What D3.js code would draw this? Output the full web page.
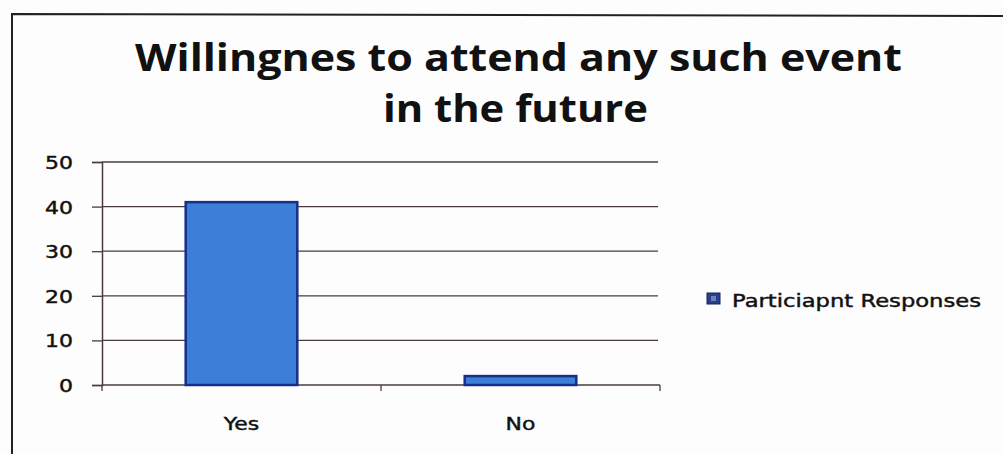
<!DOCTYPE html>
<html><head><meta charset="utf-8">
<script src="https://cdn.jsdelivr.net/npm/d3@7"></script>
<style>body{margin:0;background:#fff;} svg{display:block;}</style>
</head><body>
<svg id="c" width="1003" height="454"></svg>
<script>
const categories = ["Yes", "No"];
const values = [41, 2];
const yTicks = [0, 10, 20, 30, 40, 50];
const titleLines = ["Willingnes to attend any such event", "in the future"];
const seriesName = "Particiapnt Responses";

const svg = d3.select("#c");
svg.append("rect").attr("width",1003).attr("height",454).attr("fill","#fdfdfd");
// chart frame
svg.append("path").attr("d","M12,454 L12,14 L1003,16").attr("fill","none").attr("stroke","#222").attr("stroke-width",2);

const m = {left:102, right:660, top:162, bottom:385};
const x = d3.scaleBand().domain(categories).range([m.left, m.right]);
const y = d3.scaleLinear().domain([0,50]).range([m.bottom, m.top]);
const SX = 1.22; // horizontal stretch of the small labels
const labelFont = "DejaVu Sans, Verdana, sans-serif";

// gridlines
svg.append("g").selectAll("line").data(yTicks.filter(d=>d>0)).join("line")
  .attr("x1",m.left).attr("x2",m.right-2).attr("y1",d=>y(d)).attr("y2",d=>y(d))
  .attr("stroke","#4a3c3c").attr("stroke-width",1.3);

// y axis
const ya = svg.append("g").attr("transform",`translate(${m.left},0)`)
  .call(d3.axisLeft(y).tickValues(yTicks).tickSize(10));
ya.select(".domain").attr("stroke","#4a3c3c").attr("stroke-width",1.5);
ya.selectAll(".tick line").attr("stroke","#4a3c3c").attr("stroke-width",1.3);
ya.selectAll("text").attr("font-family",labelFont).attr("font-size",18).attr("fill","#111")
  .attr("stroke","#111").attr("stroke-width",0.45)
  .attr("x",-29/SX).attr("dy","0.36em").attr("transform",`scale(${SX},1)`);

// x axis
const xa = svg.append("g").attr("transform",`translate(0,${m.bottom})`)
  .call(d3.axisBottom(x).tickSize(0));
xa.select(".domain").remove();
xa.append("line").attr("x1",m.left).attr("x2",m.right).attr("stroke","#4a3c3c").attr("stroke-width",1.5);
const bounds = [m.left].concat(categories.map(c=>x(c)+x.bandwidth()));
xa.selectAll(".bt").data(bounds).join("line").attr("class","bt")
  .attr("x1",d=>d).attr("x2",d=>d).attr("y1",0).attr("y2",6).attr("stroke","#4a3c3c").attr("stroke-width",1.3);
xa.selectAll(".tick text").attr("font-family",labelFont).attr("font-size",18).attr("fill","#111")
  .attr("stroke","#111").attr("stroke-width",0.45)
  .attr("y",45).attr("dy",0).attr("transform",`scale(${SX},1)`);

// bars
const inset = x.bandwidth()*0.3;
svg.append("g").selectAll("rect").data(values).join("rect")
  .attr("x",(d,i)=>x(categories[i])+inset)
  .attr("width",x.bandwidth()-2*inset)
  .attr("y",d=>y(d)).attr("height",d=>y(0)-y(d))
  .attr("fill","#3d7fd6").attr("stroke","#14308a").attr("stroke-width",2.5);

// title
const tg = svg.append("g");
const tys = [71, 122];
const tcx = [518.5, 515.5];
const tlen = [767, 265];
titleLines.forEach((t,i)=>{
  tg.append("text").attr("x",tcx[i]).attr("y",tys[i]).attr("text-anchor","middle")
    .attr("font-family","Open Sans, sans-serif").attr("font-weight","bold").attr("font-size",37).attr("fill","#111")
    .attr("textLength",tlen[i]).attr("lengthAdjust","spacingAndGlyphs").text(t);
});

// legend
const lg = svg.append("g").attr("transform","translate(707,293)");
lg.append("rect").attr("width",13).attr("height",11).attr("fill","#2a3f8c").attr("stroke","#14225a");
lg.append("rect").attr("x",4).attr("y",3).attr("width",5).attr("height",5).attr("fill","#6f80b8");
lg.append("text").attr("x",25).attr("y",14).attr("font-family",labelFont)
  .attr("stroke","#111").attr("stroke-width",0.45)
  .attr("font-size",18).attr("fill","#111").attr("textLength",249).attr("lengthAdjust","spacingAndGlyphs").text(seriesName);
</script>
</body></html>
